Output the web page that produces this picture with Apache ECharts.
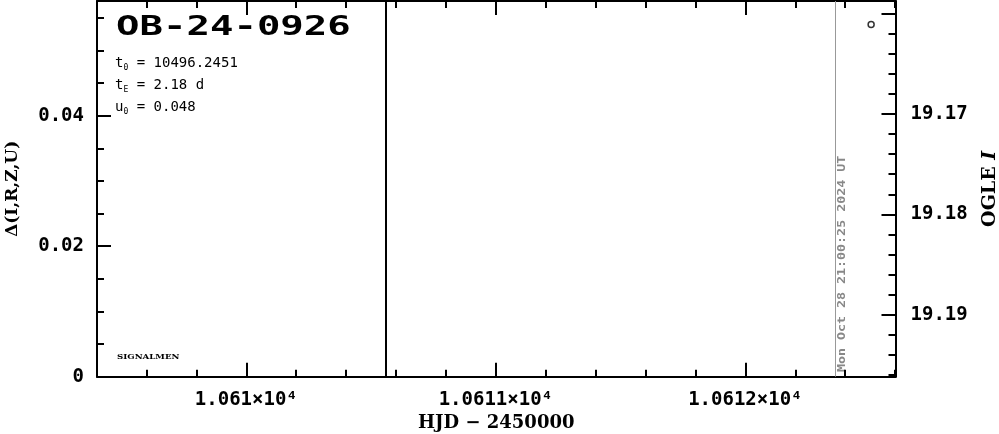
<!DOCTYPE html>
<html><head><meta charset="utf-8">
<script src="https://cdn.jsdelivr.net/npm/echarts@6/dist/echarts.min.js"></script>
<style>html,body{margin:0;padding:0;background:#fff}#c{width:999px;height:434px}</style>
</head><body><div id="c"></div>
<script>
// ---- data ----
const hjdRange = [10609.4015, 10612.6017];
const deltaRange = [0, 0.0576];
const magRange = [19.15876, 19.19615];
const obsHJD = [10612.504];
const obsMag = [19.1611];
const blackLineHJD = [10610.555];
const greyLineHJD = [10612.3635];
const rightTickLabels = ['19.17', '19.18', '19.19'];
const eventName = 'OB-24-0926';
const paramNames = ['t', 't', 'u'];
const paramSubs = ['0', 'E', '0'];
const paramValues = ['10496.2451', '2.18 d', '0.048'];
const stampText = 'Mon Oct 28 21:00:25 2024 UT';
const creditText = 'SIGNALMEN';
const xAxisName = 'HJD \u2212 2450000';
const leftAxisName = '\u0394(I,R,Z,U)';

const MONO = '"DejaVu Sans Mono"';
const SERIF = '"DejaVu Serif"';
const tickFont = {fontFamily: MONO, fontSize: 19, fontWeight: 'bold', color: '#000'};
const axLine = {lineStyle: {color: '#000', width: 2}};
const tickStyle = {color: '#000', width: 2};

const chart = echarts.init(document.getElementById('c'), null, {renderer: 'canvas'});

function xAx(pos, labels) {
  return {
    type: 'value', position: pos, min: hjdRange[0], max: hjdRange[1],
    minInterval: 1, maxInterval: 1, splitNumber: 3,
    axisLine: axLine,
    axisTick: {show: true, inside: true, length: 14, lineStyle: tickStyle},
    minorTick: {show: true, splitNumber: 5, length: 7, lineStyle: tickStyle},
    splitLine: {show: false}, minorSplitLine: {show: false},
    axisLabel: labels ? Object.assign({
      show: true, margin: 14, showMinLabel: false, showMaxLabel: false,
      formatter: v => parseFloat((v / 1e4).toPrecision(6)) + '\u00d710\u2074'
    }, tickFont) : {show: false},
    name: labels ? xAxisName : '', nameLocation: 'middle', nameGap: 37,
    nameTextStyle: {fontFamily: SERIF, fontSize: 18, fontWeight: 'bold', color: '#000'}
  };
}

const option = {
  animation: false,
  backgroundColor: '#fff',
  grid: {left: 97, right: 103.5, top: 1, bottom: 57.3, containLabel: false, outerBoundsMode: 'none'},
  xAxis: [xAx('bottom', true), xAx('top', false)],
  yAxis: [
    {
      type: 'value', position: 'left', min: deltaRange[0], max: deltaRange[1], interval: 0.02,
      axisLine: axLine,
      axisTick: {show: true, inside: true, length: 14, lineStyle: tickStyle},
      minorTick: {show: true, splitNumber: 4, length: 7, lineStyle: tickStyle},
      splitLine: {show: false}, minorSplitLine: {show: false},
      axisLabel: Object.assign({margin: 13, showMaxLabel: false, formatter: v => String(parseFloat(v.toFixed(3)))}, tickFont),
      name: leftAxisName, nameLocation: 'middle', nameGap: 76, nameRotate: 90,
      nameTextStyle: {fontFamily: SERIF, fontSize: 17, fontWeight: 'bold', color: '#000'}
    },
    {
      type: 'value', position: 'right', inverse: true, min: magRange[0], max: magRange[1],
      minInterval: 0.01, maxInterval: 0.01, splitNumber: 4,
      axisLine: axLine,
      axisTick: {show: true, inside: true, length: 14, lineStyle: tickStyle},
      minorTick: {show: true, splitNumber: 5, length: 7, lineStyle: tickStyle},
      splitLine: {show: false}, minorSplitLine: {show: false},
      axisLabel: Object.assign({margin: 15, showMinLabel: false, showMaxLabel: false,
        formatter: v => rightTickLabels.includes(v.toFixed(2)) ? v.toFixed(2) : ''}, tickFont),
      name: 'OGLE {i|I}', nameLocation: 'middle', nameGap: 85, nameRotate: 90,
      nameTextStyle: {fontFamily: SERIF, fontSize: 19, fontWeight: 'bold', color: '#000',
        rich: {i: {fontFamily: SERIF, fontSize: 19, fontWeight: 'bold', fontStyle: 'italic', color: '#000'}}}
    }
  ],
  series: [
    {
      type: 'scatter', xAxisIndex: 0, yAxisIndex: 1,
      data: obsHJD.map((x, i) => [x, obsMag[i]]),
      symbol: 'circle', symbolSize: 6,
      itemStyle: {color: '#fff', borderColor: '#000', borderWidth: 1.5},
      silent: true,
      markLine: {
        silent: true, symbol: ['none', 'none'], label: {show: false},
        data: [
          ...blackLineHJD.map(x => ({xAxis: x, lineStyle: {color: '#000', width: 2, type: 'solid'}})),
          ...greyLineHJD.map(x => ({xAxis: x, lineStyle: {color: '#999', width: 1, type: 'solid'}}))
        ]
      }
    }
  ]
};
chart.setOption(option);

// annotations
const paramRich = {
  m: {fontFamily: MONO, fontSize: 14, color: '#000', lineHeight: 18, verticalAlign: 'middle'},
  s: {fontFamily: MONO, fontSize: 8, color: '#000', lineHeight: 18, verticalAlign: 'bottom'}
};
const graphics = [
  {type: 'text', x: 116, y: 28, scaleX: 1.5, silent: true,
   style: {text: eventName, font: 'bold 26px ' + MONO, fill: '#000', textAlign: 'left', textVerticalAlign: 'middle'}},
  {type: 'text', x: 117, y: 356.5, scaleX: 1.08, silent: true,
   style: {text: creditText, font: 'bold 8px ' + SERIF, fill: '#000', textAlign: 'left', textVerticalAlign: 'middle'}}
];
paramNames.forEach((n, i) => {
  graphics.push({type: 'text', x: 115, y: 63 + i * 22, silent: true,
    style: {text: '{m|' + n + '}{s|' + paramSubs[i] + '}{m| = ' + paramValues[i] + '}', rich: paramRich,
      textAlign: 'left', textVerticalAlign: 'middle'}});
});
const gx = chart.convertToPixel({xAxisIndex: 0}, greyLineHJD[0]);
graphics.push({type: 'text', x: gx + 6, y: 372, rotation: Math.PI / 2, scaleX: 1.33, silent: true,
  style: {text: stampText, font: 'bold 10px ' + MONO, fill: '#888', textAlign: 'left', textVerticalAlign: 'middle'}});
chart.setOption({graphic: graphics});
</script></body></html>
